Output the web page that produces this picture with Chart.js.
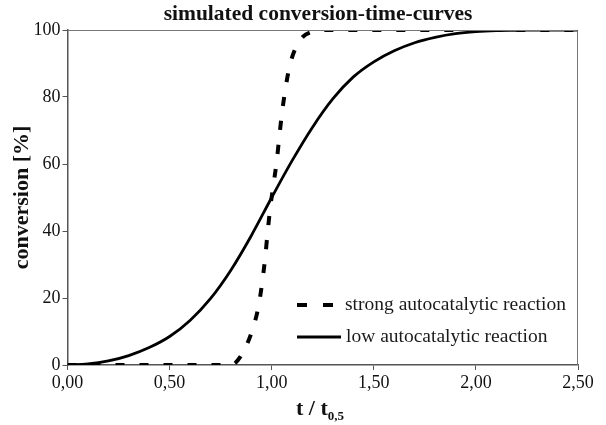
<!DOCTYPE html>
<html>
<head>
<meta charset="utf-8">
<script src="https://cdn.jsdelivr.net/npm/chart.js@4"></script>
<style>
  html, body { margin: 0; padding: 0; background: #fff; }
  #wrap { width: 606px; height: 425px; }
</style>
</head>
<body>
<div id="wrap"><canvas id="chart" width="606" height="425"></canvas></div>
<script>
// values
const lowT = [0, 0.1, 0.2, 0.3, 0.4, 0.5, 0.6, 0.7, 0.8, 0.9, 1.0, 1.1, 1.2, 1.3, 1.4, 1.5, 1.6, 1.7, 1.8, 1.9, 2.0, 2.1, 2.2, 2.3, 2.4, 2.5];
const lowConv = [0, 0.3, 1.2, 2.8, 5.2, 8.5, 13.3, 19.8, 28.3, 38.6, 50, 61, 71, 79.5, 86, 90.5, 93.8, 96.2, 97.8, 98.9, 99.5, 99.8, 99.9, 100, 100, 100];

const strongT = [0, 0.2, 0.4, 0.6, 0.8, 0.846, 0.903, 0.935, 0.952, 0.968, 0.979, 0.993, 1.009, 1.025, 1.037, 1.05, 1.066, 1.091, 1.14, 1.2, 1.25, 1.5, 2.0, 2.5];
const strongConv = [0, 0, 0, 0, 0, 2.4, 10, 17.4, 24, 32, 39, 47, 54, 61, 68, 75, 82, 90, 97, 99.5, 100, 100, 100, 100];

const xTickLabels = ['0,00', '0,50', '1,00', '1,50', '2,00', '2,50'];
const yTickLabels = ['0', '20', '40', '60', '80', '100'];

const seriesNames = ['strong autocatalytic reaction', 'low autocatalytic reaction'];

const serif = "'Liberation Serif', 'DejaVu Serif', serif";
const axisColor = '#555555';

function toPoints(xs, ys) {
    return xs.map((x, i) => ({ x: x, y: ys[i] }));
}

// title, frame, x-axis title with subscript, legend inside the plot
const decorations = {
    id: 'decorations',
    afterDraw(chart) {
        const ctx = chart.ctx;
        const area = chart.chartArea;
        ctx.save();

        // frame top / right
        ctx.strokeStyle = '#777777';
        ctx.lineWidth = 1;
        ctx.beginPath();
        ctx.moveTo(area.left, area.top + 0.5);
        ctx.lineTo(area.right - 0.5, area.top + 0.5);
        ctx.lineTo(area.right - 0.5, area.bottom);
        ctx.stroke();

        // title
        ctx.fillStyle = '#111';
        ctx.font = 'bold 21.5px ' + serif;
        ctx.textAlign = 'center';
        ctx.textBaseline = 'alphabetic';
        ctx.fillText('simulated conversion-time-curves', 318, 20);

        // x axis title: t / t0,5
        const main = 't / t';
        ctx.font = 'bold 22px ' + serif;
        const w1 = ctx.measureText(main).width;
        ctx.font = 'bold 13px ' + serif;
        const w2 = ctx.measureText('0,5').width;
        const startX = 320 - (w1 + w2) / 2;
        ctx.textAlign = 'left';
        ctx.font = 'bold 22px ' + serif;
        ctx.fillText(main, startX, 415);
        ctx.font = 'bold 13px ' + serif;
        ctx.fillText('0,5', startX + w1, 420);

        // legend
        const items = chart.data.datasets;
        const rows = [305, 337];
        items.forEach((ds, i) => {
            const y = rows[i];
            ctx.strokeStyle = ds.borderColor;
            ctx.lineWidth = ds.borderWidth;
            ctx.setLineDash(i === 0 ? [10, 16] : []);
            ctx.lineCap = 'butt';
            ctx.beginPath();
            ctx.moveTo(297, y);
            ctx.lineTo(i === 0 ? 333 : 341, y);
            ctx.stroke();
            ctx.setLineDash([]);
            ctx.fillStyle = '#1a1a1a';
            ctx.font = '19.5px ' + serif;
            ctx.textBaseline = 'middle';
            ctx.fillText(ds.label, i === 0 ? 345 : 346, y);
        });
        ctx.restore();
    }
};

new Chart(document.getElementById('chart'), {
    type: 'line',
    data: {
        datasets: [{
            label: seriesNames[0],
            data: toPoints(strongT, strongConv),
            borderColor: '#000',
            borderWidth: 4,
            borderDash: [9, 15],
            pointRadius: 0,
            fill: false,
            cubicInterpolationMode: 'monotone'
        }, {
            label: seriesNames[1],
            data: toPoints(lowT, lowConv),
            borderColor: '#000',
            borderWidth: 2.8,
            pointRadius: 0,
            fill: false,
            cubicInterpolationMode: 'monotone'
        }]
    },
    options: {
        responsive: false,
        animation: false,
        layout: { padding: { top: 30, right: 28, bottom: 0, left: 0 } },
        plugins: {
            legend: { display: false },
            title: { display: false },
            tooltip: { enabled: false }
        },
        scales: {
            x: {
                type: 'linear',
                min: 0,
                max: 2.5,
                ticks: {
                    stepSize: 0.5,
                    color: '#111',
                    font: { family: serif, size: 18 },
                    padding: 2,
                    maxRotation: 0,
                    callback: (v) => xTickLabels[Math.round(v / 0.5)]
                },
                grid: { drawOnChartArea: false, tickLength: 5, color: axisColor },
                border: { color: axisColor, width: 1.5 },
                afterFit: (scale) => { scale.height = 60; }
            },
            y: {
                min: 0,
                max: 100,
                ticks: {
                    stepSize: 20,
                    color: '#111',
                    font: { family: serif, size: 18 },
                    padding: 2,
                    callback: (v) => yTickLabels[Math.round(v / 20)]
                },
                title: {
                    display: true,
                    text: 'conversion [%]',
                    color: '#111',
                    font: { family: serif, size: 22, weight: 'bold' },
                    padding: { top: 9, bottom: 0 }
                },
                grid: { drawOnChartArea: false, tickLength: 5, color: axisColor },
                border: { color: axisColor, width: 1.5 },
                afterFit: (scale) => { scale.width = 67.5; }
            }
        }
    },
    plugins: [decorations]
});
</script>
</body>
</html>
